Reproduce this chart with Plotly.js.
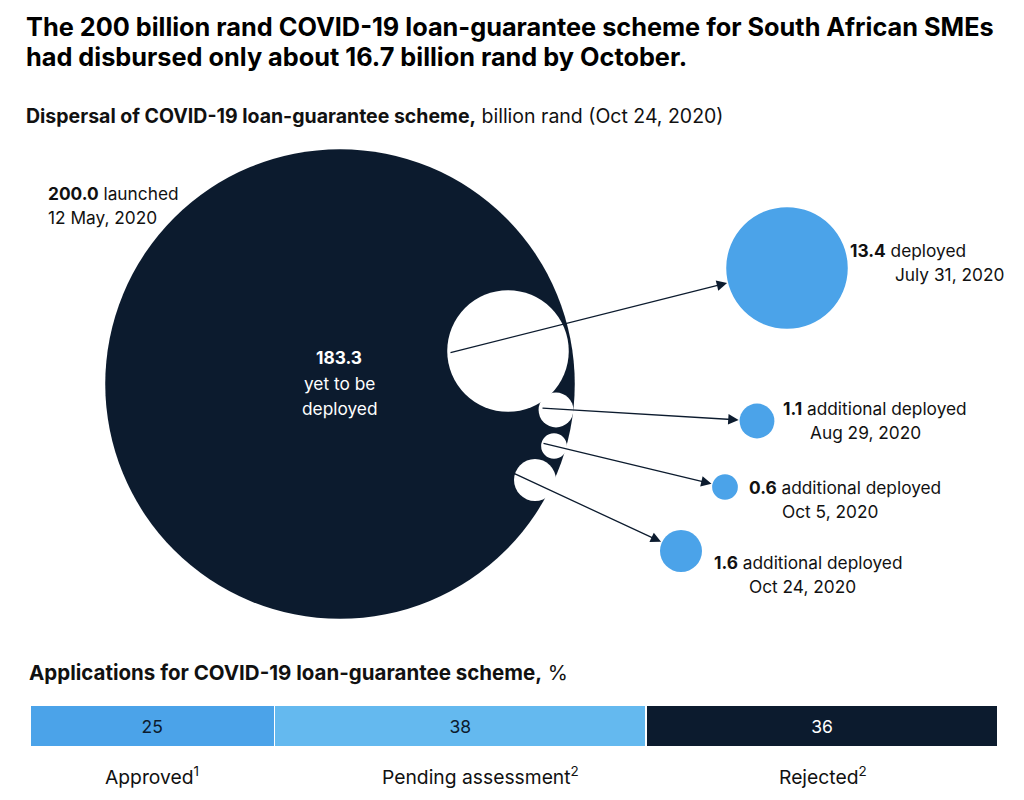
<!DOCTYPE html>
<html>
<head>
<meta charset="utf-8">
<script src="https://cdn.plot.ly/plotly-3.0.1.min.js"></script>
<style>html,body{margin:0;padding:0;background:#fff;}#chart{width:1024px;height:800px;}</style>
</head>
<body>
<div id="chart"></div>
<script>
// ---- data ----
const launchedValue = 200.0;
const launchedDate = "12 May, 2020";
const remainingValue = 183.3;
const deployedValues = [13.4, 1.1, 0.6, 1.6];
const deployedLabels = ["deployed", "additional deployed", "additional deployed", "additional deployed"];
const deployedDates = ["July 31, 2020", "Aug 29, 2020", "Oct 5, 2020", "Oct 24, 2020"];
const appCategories = ["Approved<sup>1</sup>", "Pending assessment<sup>2</sup>", "Rejected<sup>2</sup>"];
const appShares = [25, 38, 36];

// ---- layout (positions / styles) ----
const NAVY = "#0c1b2e", BLUE = "#4ba3e9", LIGHT = "#64b9ef";
const FONT = "Inter, Liberation Sans, Arial, sans-serif";
const k = 16.6; // px radius per sqrt(billion rand)
const bigCenter = [340, 384];
const holeCenters = [[508, 351], [556, 410], [554, 446], [535, 480]];
const dotCenters = [[787, 268], [757, 421], [725, 487], [681, 551]];
const arrowTails = [[449, 353], [541, 408], [542, 443], [513, 473]];
const labelPos = [[848, 250, 893, 274], [781, 408, 808, 432], [747, 487, 780, 511], [712, 562, 747, 586]];
const segColors = [BLUE, LIGHT, NAVY];
const segTextColors = [NAVY, NAVY, "#ffffff"];
const barLabelX = [152, 480, 823];
const BODY = 17.3;

const r = v => k * Math.sqrt(v);
function circle(c, v, color) {
  const rad = r(v);
  return {type: "circle", xref: "x", yref: "y", x0: c[0] - rad, x1: c[0] + rad, y0: c[1] - rad, y1: c[1] + rad,
          fillcolor: color, line: {width: 0}, layer: "above"};
}

const shapes = [circle(bigCenter, launchedValue, NAVY)];
deployedValues.forEach((v, i) => shapes.push(circle(holeCenters[i], v, "#ffffff")));
deployedValues.forEach((v, i) => shapes.push(circle(dotCenters[i], v, BLUE)));

const ann = [];
const txt = (x, y, text, opts) => Object.assign({x, y, xref: "x", yref: "y", text, showarrow: false,
  xanchor: "left", yanchor: "middle", font: {family: FONT, size: BODY, color: "#111"}}, opts || {});

// titles
ann.push(txt(24, 26, "<b>The 200 billion rand COVID-19 loan-guarantee scheme for South African SMEs</b>", {font: {family: FONT, size: 25.3, color: "#000"}}));
ann.push(txt(24, 56, "<b>had disbursed only about 16.7 billion rand by October.</b>", {font: {family: FONT, size: 25.3, color: "#000"}}));
ann.push(txt(24, 116, "<b>Dispersal of COVID-19 loan-guarantee scheme,</b> billion rand (Oct 24, 2020)", {font: {family: FONT, size: 19.5, color: "#111"}}));
ann.push(txt(27, 672, "<b>Applications for COVID-19 loan-guarantee scheme,</b> %", {font: {family: FONT, size: 20.5, color: "#111"}}));

// big circle labels
ann.push(txt(46, 193, "<b>" + launchedValue.toFixed(1) + "</b> launched"));
ann.push(txt(46, 217, launchedDate));
ann.push(txt(339, 357, "<b>" + remainingValue.toFixed(1) + "</b>", {xanchor: "center", font: {family: FONT, size: BODY, color: "#fff"}}));
ann.push(txt(339, 383, "yet to be", {xanchor: "center", font: {family: FONT, size: BODY, color: "#fff"}}));
ann.push(txt(339, 408, "deployed", {xanchor: "center", font: {family: FONT, size: BODY, color: "#fff"}}));

// deployed labels + arrows
deployedValues.forEach((v, i) => {
  const p = labelPos[i];
  ann.push(txt(p[0], p[1], "<b>" + v.toFixed(1) + "</b> " + deployedLabels[i]));
  ann.push(txt(p[2], p[3], deployedDates[i]));
  const c = dotCenters[i], t = arrowTails[i], rad = r(v);
  const dx = c[0] - t[0], dy = c[1] - t[1], d = Math.hypot(dx, dy);
  ann.push({x: c[0] - dx / d * (rad + 1), y: c[1] - dy / d * (rad + 1), xref: "x", yref: "y",
            ax: t[0], ay: t[1], axref: "x", ayref: "y", text: "", showarrow: true,
            arrowhead: 2, arrowsize: 1.6, arrowwidth: 1.3, arrowcolor: NAVY, standoff: 0, startstandoff: 0});
});

// bar category labels
appCategories.forEach((c, i) => ann.push(txt(barLabelX[i], 776, c, {xanchor: "center", font: {family: FONT, size: 19.3, color: "#111"}})));

const traces = appShares.map((v, i) => ({
  type: "bar", orientation: "h", x: [v], y: [0], xaxis: "x2", yaxis: "y2", width: 1,
  marker: {color: segColors[i], line: {color: "#ffffff", width: 1.5}},
  text: [String(v)], textposition: "inside", insidetextanchor: "middle",
  textfont: {family: FONT, size: 17.5, color: segTextColors[i]}, hoverinfo: "none", showlegend: false
}));
traces.push({type: "scatter", x: [0], y: [0], mode: "markers", marker: {opacity: 0}, showlegend: false, hoverinfo: "none"});

const layout = {
  width: 1024, height: 800, margin: {l: 0, r: 0, t: 0, b: 0},
  paper_bgcolor: "#fff", plot_bgcolor: "rgba(0,0,0,0)",
  barmode: "stack", showlegend: false,
  xaxis: {range: [0, 1024], domain: [0, 1], visible: false, fixedrange: true},
  yaxis: {range: [800, 0], domain: [0, 1], visible: false, fixedrange: true},
  xaxis2: {range: [0, appShares.reduce((a, b) => a + b, 0)], domain: [30 / 1024, 998 / 1024], anchor: "y2", visible: false},
  yaxis2: {range: [-0.5, 0.5], domain: [1 - 747 / 800, 1 - 705 / 800], anchor: "x2", visible: false},
  shapes: shapes, annotations: ann, uniformtext: {mode: false}
};
Plotly.newPlot("chart", traces, layout, {staticPlot: true, displayModeBar: false});
</script>
</body>
</html>
